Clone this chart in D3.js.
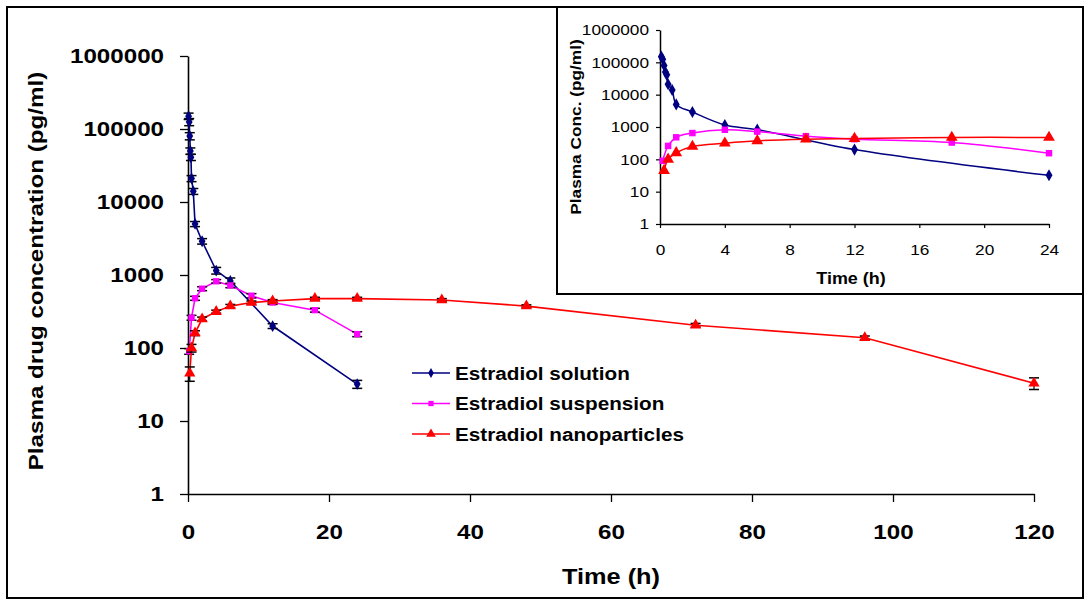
<!DOCTYPE html>
<html>
<head>
<meta charset="utf-8">
<script src="https://cdn.jsdelivr.net/npm/d3@7"></script>
<style>
  html, body { margin: 0; padding: 0; background: #fff; }
  svg { display: block; }
  text { font-family: "Liberation Sans", Arial, sans-serif; fill: #000; }
</style>
</head>
<body>
<svg id="chart" width="1086" height="601"></svg>
<script>
// Estradiol plasma concentration (pg/ml) over time (h), mean ± SD
const solutionTime = [0.083, 0.167, 0.25, 0.333, 0.417, 0.5, 0.75, 1, 2, 4, 6, 12, 24];
const solutionConc = [150000, 125000, 80000, 50000, 41000, 21000, 14000, 5000, 2900, 1150, 830, 200, 32];
const solutionSD   = [15000, 14000, 9000, 5000, 4000, 2000, 1300, 400, 250, 120, 80, 15, 4];

const suspensionTime = [0.167, 0.5, 1, 2, 4, 6, 9, 12, 18, 24];
const suspensionConc = [90, 260, 480, 650, 820, 720, 520, 420, 330, 155];
const suspensionSD   = [8, 20, 30, 40, 45, 50, 35, 25, 20, 12];

const nanoTime = [0.25, 0.5, 1, 2, 4, 6, 9, 12, 18, 24, 36, 48, 72, 96, 120];
const nanoConc = [45, 100, 160, 250, 315, 375, 420, 440, 475, 475, 455, 375, 205, 138, 33];
const nanoSD   = [10, 12, 12, 15, 15, 20, 20, 20, 20, 20, 20, 15, 12, 8, 6];

const seriesNames = ["Estradiol solution", "Estradiol suspension", "Estradiol nanoparticles"];
const seriesColors = ["#000080", "#FF00FF", "#FF0000"];
const seriesSymbols = [d3.symbolDiamond, d3.symbolSquare, d3.symbolTriangle];

const yTicks = [1, 10, 100, 1000, 10000, 100000, 1000000];
const xTicksMain = [0, 20, 40, 60, 80, 100, 120];
const xTicksInset = [0, 4, 8, 12, 16, 20, 24];

const series = [
  { t: solutionTime, c: solutionConc, sd: solutionSD },
  { t: suspensionTime, c: suspensionConc, sd: suspensionSD },
  { t: nanoTime, c: nanoConc, sd: nanoSD }
].map((s, i) => ({
  name: seriesNames[i], color: seriesColors[i], symbol: seriesSymbols[i],
  points: s.t.map((t, j) => ({ t, c: s.c[j], sd: s.sd[j] }))
}));

const svg = d3.select("#chart");
const fmt = d3.format("d");

// widen glyphs horizontally, keeping their anchor
function stretch(sel, k) {
  sel.each(function () {
    const w = this.getComputedTextLength();
    this.setAttribute("textLength", w * k);
    this.setAttribute("lengthAdjust", "spacingAndGlyphs");
  });
}

// outer frame
svg.append("rect").attr("x", 7).attr("y", 7).attr("width", 1076).attr("height", 591)
  .attr("fill", "none").attr("stroke", "#000").attr("stroke-width", 2);

// ---------- main panel ----------
const x = d3.scaleLinear().domain([0, 120]).range([188, 1034]);
const y = d3.scaleLog().domain([1, 1000000]).range([494, 56]);

const main = svg.append("g");

const xAxis = main.append("g").attr("transform", `translate(0,${y(1)})`)
  .call(d3.axisBottom(x).tickValues(xTicksMain).tickFormat(fmt).tickSize(8).tickSizeOuter(0).tickPadding(22));
const yAxis = main.append("g").attr("transform", `translate(${x(0)},0)`)
  .call(d3.axisLeft(y).tickValues(yTicks).tickFormat(fmt).tickSize(8).tickSizeOuter(0).tickPadding(16));

[xAxis, yAxis].forEach(a => {
  a.select(".domain").attr("stroke", "#000").attr("stroke-width", 1.6);
  a.selectAll(".tick line").attr("stroke", "#000").attr("stroke-width", 1.3);
  a.selectAll(".tick text").attr("font-size", 21).attr("font-weight", "bold")
    .attr("font-family", "Liberation Sans, Arial, sans-serif").attr("fill", "#000");
  stretch(a.selectAll(".tick text"), 1.15);
});

main.append("text").attr("transform", `translate(43,271) rotate(-90)`)
  .attr("text-anchor", "middle").attr("font-size", 21).attr("font-weight", "bold")
  .text("Plasma drug concentration (pg/ml)")
  .call(s => stretch(s, 1.15));

main.append("text").attr("x", 611).attr("y", 584)
  .attr("text-anchor", "middle").attr("font-size", 22).attr("font-weight", "bold")
  .text("Time (h)")
  .call(s => stretch(s, 1.15));

const lineMain = d3.line().x(d => x(d.t)).y(d => y(d.c));

series.forEach(s => {
  const g = main.append("g");
  g.append("path").datum(s.points).attr("d", lineMain)
    .attr("fill", "none").attr("stroke", s.color).attr("stroke-width", 1.6);
  // error bars
  const eb = g.selectAll(".eb").data(s.points).join("g");
  eb.append("line")
    .attr("x1", d => x(d.t)).attr("x2", d => x(d.t))
    .attr("y1", d => y(d.c + d.sd)).attr("y2", d => y(Math.max(d.c - d.sd, 1)))
    .attr("stroke", "#000").attr("stroke-width", 1.2);
  eb.selectAll(".cap").data(d => [d.c + d.sd, d.c - d.sd].map(v => ({ t: d.t, v })))
    .join("line")
    .attr("x1", d => x(d.t) - 5).attr("x2", d => x(d.t) + 5)
    .attr("y1", d => y(d.v)).attr("y2", d => y(d.v))
    .attr("stroke", "#000").attr("stroke-width", 1.5);
  g.selectAll(".m").data(s.points).join("path")
    .attr("transform", d => `translate(${x(d.t)},${y(d.c)})`)
    .attr("d", d3.symbol().type(s.symbol).size(s.symbol === d3.symbolTriangle ? 55 : (s.symbol === d3.symbolSquare ? 40 : 40)))
    .attr("fill", s.color);
});

// legend
const legend = main.append("g");
series.forEach((s, i) => {
  const ly = 373 + i * 30.5;
  legend.append("line").attr("x1", 412).attr("x2", 450).attr("y1", ly).attr("y2", ly)
    .attr("stroke", s.color).attr("stroke-width", 1.6);
  legend.append("path").attr("transform", `translate(431,${ly})`)
    .attr("d", d3.symbol().type(s.symbol).size(s.symbol === d3.symbolTriangle ? 40 : 28))
    .attr("fill", s.color);
  legend.append("text").attr("x", 455).attr("y", ly + 6.5)
    .attr("font-size", 18).attr("font-weight", "bold").text(s.name)
    .call(t => stretch(t, 1.15));
});

// ---------- inset panel (first 24 h) ----------
const inset = svg.append("g");
inset.append("rect").attr("x", 557).attr("y", 7).attr("width", 526).attr("height", 287)
  .attr("fill", "#fff").attr("stroke", "#000").attr("stroke-width", 2);

const xi = d3.scaleLinear().domain([0, 24]).range([660, 1049]);
const yi = d3.scaleLog().domain([1, 1000000]).range([224, 30]);

const xiAxis = inset.append("g").attr("transform", `translate(0,${yi(1)})`)
  .call(d3.axisBottom(xi).tickValues(xTicksInset).tickFormat(fmt).tickSize(4).tickSizeOuter(0).tickPadding(16));
const yiAxis = inset.append("g").attr("transform", `translate(${xi(0)},0)`)
  .call(d3.axisLeft(yi).tickValues(yTicks).tickFormat(fmt).tickSize(4).tickSizeOuter(0).tickPadding(7));

[xiAxis, yiAxis].forEach(a => {
  a.select(".domain").attr("stroke", "#000").attr("stroke-width", 1.5);
  a.selectAll(".tick line").attr("stroke", "#000").attr("stroke-width", 1.2);
  a.selectAll(".tick text").attr("font-size", 15)
    .attr("font-family", "Liberation Sans, Arial, sans-serif").attr("fill", "#000");
  stretch(a.selectAll(".tick text"), 1.15);
});

inset.append("text").attr("transform", `translate(581,127) rotate(-90)`)
  .attr("text-anchor", "middle").attr("font-size", 15).attr("font-weight", "bold")
  .text("Plasma Conc. (pg/ml)")
  .call(s => stretch(s, 1.15));

inset.append("text").attr("x", 851).attr("y", 284)
  .attr("text-anchor", "middle").attr("font-size", 16).attr("font-weight", "bold")
  .text("Time (h)")
  .call(s => stretch(s, 1.12));

const lineInset = d3.line().x(d => xi(d.t)).y(d => yi(d.c)).curve(d3.curveCatmullRom.alpha(0.5));

series.forEach(s => {
  const pts = s.points.filter(d => d.t <= 24);
  const g = inset.append("g");
  g.append("path").datum(pts).attr("d", lineInset)
    .attr("fill", "none").attr("stroke", s.color).attr("stroke-width", 1.5);
  g.selectAll(".m").data(pts).join("path")
    .attr("transform", d => `translate(${xi(d.t)},${yi(d.c)})`)
    .attr("d", d3.symbol().type(s.symbol).size(s.symbol === d3.symbolTriangle ? 60 : 42))
    .attr("fill", s.color);
});
</script>
</body>
</html>
